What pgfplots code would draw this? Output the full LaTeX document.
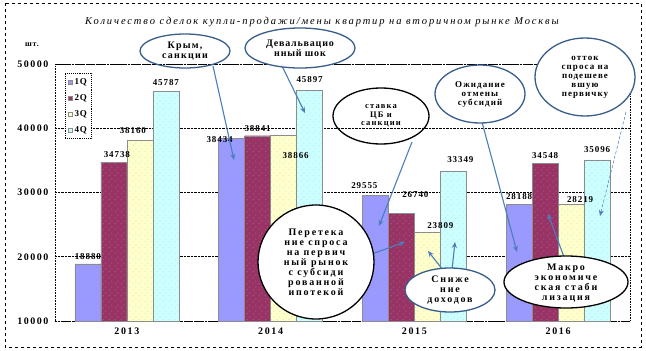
\documentclass[border=0pt]{standalone}
\usepackage{pgfplots}
\pgfplotsset{compat=1.18}
\usepackage{fontspec}
\setmainfont{Liberation Serif}
\usetikzlibrary{arrows.meta,patterns.meta}
\definecolor{qa}{HTML}{9999FF}
\definecolor{qb}{HTML}{993366}
\definecolor{qc}{HTML}{FFFFCC}
\definecolor{qd}{HTML}{CCFFFF}
\definecolor{cb}{HTML}{385D8A}
\definecolor{ar}{HTML}{4A7EBB}
\tikzdeclarepattern{name=sdots, type=uncolored, bounding box={(0pt,0pt) and (6pt,6pt)}, tile size={(6pt,6pt)},
  code={\fill (1.5pt,1.5pt) circle (0.45pt); \fill (4.5pt,4.5pt) circle (0.45pt);}}
\newcommand{\tf}[2]{\bfseries\fontsize{#1}{#1}\selectfont\addfontfeatures{LetterSpace=#2}}
\begin{document}
\begin{tikzpicture}
\begin{axis}[
  at={(55pt,-321pt)}, anchor=south west,
  scale only axis, width=575pt, height=257pt,
  xmin=-0.5, xmax=3.5, ymin=10000, ymax=50000,
  ytick={10000,20000,30000,40000,50000},
  scaled y ticks=false,
  xtick={0,1,2,3}, xticklabels={2013,2014,2015,2016},
  ybar=0pt, bar width=26pt,
  ymajorgrids, grid style={densely dotted, black, line width=0.6pt},
  axis line style={densely dotted, black, line width=0.6pt},
  major tick length=0pt,
  /pgf/number format/1000 sep={},
  /pgf/number format/assume math mode=true,
  yticklabel style={font=\tf{10}{15}, xshift=-3pt},
  xticklabel style={font=\tf{10}{17}, yshift=-3pt},
  nodes near coords,
  point meta=y,
  visualization depends on={value \thisrow{dx} \as \dx},
  visualization depends on={value \thisrow{dy} \as \dy},
  nodes near coords style={font=\tf{9}{10}, black, inner sep=1.5pt, xshift=\dx pt, yshift=\dy pt},
  every axis plot/.append style={draw=black!45, line width=0.3pt},
  legend style={at={(0.017,0.965)}, anchor=north west, draw=black, densely dotted, line width=0.9pt,
    font=\bfseries\fontsize{9}{9}\selectfont\addfontfeatures{LetterSpace=10}, fill=white, row sep=4.5pt, inner sep=3pt},
  legend cell align=left,
  legend image code/.code={\draw[#1, solid, line width=0.3pt] (2pt,-2pt) rectangle (6pt,2pt);},
]
\addplot[fill=qa, postaction={pattern={sdots}, pattern color=black!35}] table {
x y dx dy
0 18880 0 3
1 38434 -12 -6
2 29555 -11 5
3 28188 0 3
};
\addplot[fill=qb, postaction={pattern={sdots}, pattern color=black!35}] table {
x y dx dy
0 34738 3 3
1 38841 0 2
2 26740 14 14
3 34548 0 3
};
\addplot[fill=qc, postaction={pattern={sdots}, pattern color=black!25}] table {
x y dx dy
0 38160 -7 5
1 38866 12 -25
2 23809 13 2
3 28219 9 0
};
\addplot[fill=qd, postaction={pattern={sdots}, pattern color=black!25}] table {
x y dx dy
0 45787 0 4
1 45897 0 6
2 33349 7 7
3 35096 0 6
};
\legend{1Q,2Q,3Q,4Q}
\end{axis}
\begin{scope}[x=1pt,y=-1pt]
\path (0,0) rectangle (646,351);
\draw[dashed, line width=0.7pt] (5,3) rectangle (641,347);
\node[font=\itshape\fontsize{10.5}{11}\selectfont\addfontfeatures{LetterSpace=18}] at (322,22) {Количество сделок купли-продажи/мены квартир на вторичном рынке Москвы};
\node[font=\tf{8}{10}] at (32,45) {шт.};
% arrows
\begin{scope}[ar, line width=1.1pt, -{Stealth[length=6pt,width=5pt]}]
\draw (213,66) -- (234,160);
\draw (282,66) -- (305,113);
\draw (412,142) -- (379,226);
\draw (482,122) -- (517,252);
\draw[line width=0.5pt, densely dashed] (626,112) -- (600,216);
\draw (372,254) -- (405,242);
\draw (443,270) -- (428,251);
\draw (452,270) -- (455,242);
\draw (564,257) -- (548,214);
\end{scope}
% ellipses
\draw[cb, line width=1.3pt] (185,51) ellipse [x radius=45, y radius=17];
\draw[cb, line width=1.3pt, fill=white] (300,48) ellipse [x radius=55, y radius=20];
\draw[black, line width=1.3pt] (381,116) ellipse [x radius=48, y radius=28];
\draw[cb, line width=1.3pt, fill=white] (480,94) ellipse [x radius=45, y radius=29];
\draw[cb, line width=1.3pt, fill=white] (585,77) ellipse [x radius=50, y radius=39];
\draw[black, line width=1.3pt, fill=white] (316,262) ellipse [x radius=58, y radius=57];
\draw[cb, line width=1.3pt, fill=white] (450,290) ellipse [x radius=45, y radius=22];
\draw[black, line width=1.3pt, fill=white] (566,282) ellipse [x radius=62, y radius=26];
\begin{scope}[every node/.style={align=center, inner sep=0pt}]
\node[font=\tf{10}{12}] at (185,51) {\fontsize{10}{13}\selectfont Крым,\\санкции};
\node[font=\tf{10}{8}] at (300,48) {\fontsize{10}{13}\selectfont Девальвацио\\нный шок};
\node[font=\tf{8.5}{14}] at (381,116) {\fontsize{8.5}{11.5}\selectfont ставка\\ЦБ и\\санкции};
\node[font=\tf{9}{12}] at (480,94) {\fontsize{9}{13}\selectfont Ожидание\\отмены\\субсидий};
\node[font=\tf{9}{12}] at (585,77) {\fontsize{9}{13}\selectfont отток\\спроса на\\подешеве\\вшую\\первичку};
\node[font=\tf{10}{18}] at (316,262) {\fontsize{10}{12.4}\selectfont Перетека\\ние спроса\\на первич\\ный рынок\\с субсиди\\рованной\\ипотекой};
\node[font=\tf{10}{18}] at (450,290) {\fontsize{10}{13}\selectfont Сниже\\ние\\доходов};
\node[font=\tf{10}{18}] at (566,283) {\fontsize{10}{12.4}\selectfont Макро\\экономиче\\ская стаби\\лизация};
\end{scope}
\end{scope}
\end{tikzpicture}
\end{document}
